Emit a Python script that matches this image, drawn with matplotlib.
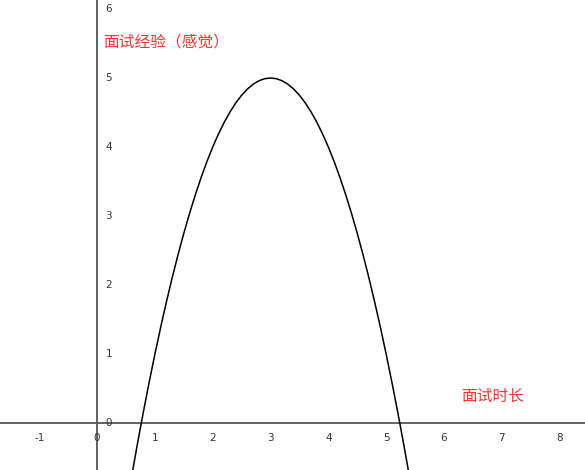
import matplotlib.pyplot as plt
import numpy as np

# points (left half up to the vertex, right half mirrors it)
xs = [0.6, 0.7, 0.8, 0.9, 1.0, 1.1, 1.2, 1.3, 1.4, 1.5, 1.6, 1.7, 1.8, 1.9,
      2.0, 2.1, 2.2, 2.3, 2.4, 2.5, 2.6, 2.7, 2.8, 2.9, 3.0,
      3.1, 3.2, 3.3, 3.4, 3.5, 3.6, 3.7, 3.8, 3.9, 4.0, 4.1, 4.2, 4.3, 4.4,
      4.5, 4.6, 4.7, 4.8, 4.9, 5.0, 5.1, 5.2, 5.3, 5.4]
ys = [-0.76, -0.29, 0.16, 0.59, 1.0, 1.39, 1.76, 2.11, 2.44, 2.75, 3.04, 3.31, 3.56, 3.79,
      4.0, 4.19, 4.36, 4.51, 4.64, 4.75, 4.84, 4.91, 4.96, 4.99, 5.0,
      4.99, 4.96, 4.91, 4.84, 4.75, 4.64, 4.51, 4.36, 4.19, 4.0, 3.79, 3.56, 3.31, 3.04,
      2.75, 2.44, 2.11, 1.76, 1.39, 1.0, 0.59, 0.16, -0.29, -0.76]

xticks = [-1, 0, 1, 2, 3, 4, 5, 6, 7, 8]
yticks = [0, 1, 2, 3, 4, 5, 6]

ylabel_txt = "面试经验（感觉）"
xlabel_txt = "面试时长"

fig = plt.figure(figsize=(5.85, 4.7), dpi=100)
ax = fig.add_axes([0, 0, 1, 1])
ax.set_xlim(-1.68, 8.44)
ax.set_ylim(-0.68, 6.13)
ax.axis('off')

ax.axhline(0, color='#555555', lw=1.3, zorder=1)
ax.axvline(0, color='#555555', lw=1.3, zorder=1)

ax.plot(xs, ys, color='black', lw=1.1, zorder=2)

for t in xticks:
	ax.annotate(str(t), (t, 0), xytext=(0, -10.5), textcoords='offset points',
		ha='center', va='center', fontsize=7.5, color='#333333')
for t in yticks:
	ax.annotate(str(t), (0, t), xytext=(6, 0), textcoords='offset points',
		ha='left', va='center', fontsize=7.5, color='#333333')

cjk = ['Noto Sans CJK SC', 'DejaVu Sans']
ax.text(0.10, 5.52, ylabel_txt, color='#ff3333', fontsize=11.3, family=cjk, va='center')
ax.text(6.3, 0.38, xlabel_txt, color='#ff3333', fontsize=11.3, family=cjk, va='center')

fig.savefig("out.png")
